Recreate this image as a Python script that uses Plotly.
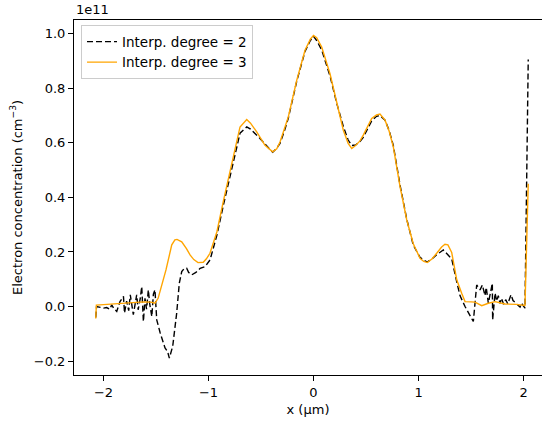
import plotly.graph_objects as go

# Values in units of 1e11 cm^-3, x in µm
x_deg3 = [-2.074, -2.068, -2.0, -1.9, -1.8, -1.7, -1.62, -1.55, -1.51, -1.48, -1.446, -1.405,
          -1.35, -1.32, -1.30, -1.255, -1.21, -1.176, -1.14, -1.10, -1.05, -1.02, -0.986,
          -0.953, -0.92, -0.859, -0.81, -0.764, -0.70, -0.636, -0.60, -0.541, -0.462,
          -0.389, -0.35, -0.319, -0.28, -0.24, -0.16, -0.081, -0.03, 0.0, 0.03, 0.078,
          0.157, 0.221, 0.284, 0.33, 0.364, 0.40, 0.443, 0.474, 0.554, 0.60, 0.633, 0.681,
          0.72, 0.76, 0.824, 0.888, 0.95, 1.014, 1.05, 1.084, 1.13, 1.173, 1.22, 1.252,
          1.28, 1.316, 1.348, 1.364, 1.411, 1.443, 1.50, 1.538, 1.602, 1.665, 1.729, 1.78,
          1.824, 1.93, 2.014, 2.045]
y_deg3 = [-0.044, 0.005, 0.007, 0.010, 0.013, 0.016, 0.017, 0.016, 0.012, 0.030, 0.075, 0.134,
          0.226, 0.244, 0.246, 0.237, 0.212, 0.189, 0.172, 0.161, 0.162, 0.175, 0.195,
          0.232, 0.274, 0.385, 0.470, 0.548, 0.658, 0.685, 0.672, 0.640, 0.591,
          0.567, 0.578, 0.603, 0.645, 0.695, 0.829, 0.939, 0.980, 0.993, 0.985, 0.951,
          0.853, 0.744, 0.646, 0.598, 0.579, 0.590, 0.607, 0.628, 0.689, 0.702, 0.705, 0.683,
          0.643, 0.585, 0.439, 0.317, 0.230, 0.177, 0.165, 0.161, 0.175, 0.195, 0.218, 0.228,
          0.226, 0.198, 0.128, 0.098, 0.049, 0.018, 0.017, 0.016, 0.003, 0.012, 0.018, 0.013,
          0.009, 0.008, 0.004, 0.450]

x_deg2 = [-2.074, -2.066, -2.03, -2.0, -1.97, -1.94, -1.922, -1.90, -1.874, -1.843, -1.81,
          -1.80, -1.78, -1.76, -1.745, -1.716, -1.684, -1.67, -1.65, -1.636, -1.62, -1.605,
          -1.59, -1.573, -1.56, -1.54, -1.525, -1.51, -1.493, -1.46, -1.414, -1.39, -1.373,
          -1.341, -1.303, -1.278, -1.255, -1.23, -1.208, -1.19, -1.16, -1.12, -1.08, -1.033,
          -0.985, -0.95, -0.92, -0.859, -0.81, -0.764, -0.70, -0.636, -0.60, -0.51, -0.45,
          -0.389, -0.35, -0.319, -0.28, -0.24, -0.16, -0.081, -0.03, 0.0, 0.03, 0.078,
          0.157, 0.221, 0.284, 0.33, 0.364, 0.40, 0.443, 0.474, 0.554, 0.60, 0.633, 0.681,
          0.72, 0.76, 0.824, 0.888, 0.95, 1.014, 1.05, 1.084, 1.13, 1.173, 1.236, 1.28,
          1.316, 1.364, 1.395, 1.443, 1.49, 1.522, 1.554, 1.586, 1.608, 1.633, 1.645, 1.665,
          1.685, 1.703, 1.706, 1.729, 1.745, 1.76, 1.776, 1.79, 1.81, 1.83, 1.85, 1.881,
          1.90, 1.935, 1.967, 1.98, 2.014, 2.045]
y_deg2 = [-0.040, 0.000, -0.003, -0.006, -0.004, -0.010, 0.006, -0.008, -0.018, 0.018, 0.037,
          -0.024, 0.020, -0.015, 0.043, -0.030, 0.043, -0.012, 0.030, 0.073, -0.055, 0.030,
          -0.010, 0.061, 0.010, -0.037, 0.045, 0.061, -0.049, -0.097, -0.152, -0.165, -0.189,
          -0.146, -0.024, 0.086, 0.128, 0.140, 0.140, 0.125, 0.116, 0.125, 0.140, 0.146,
          0.171, 0.220, 0.262, 0.370, 0.455, 0.530, 0.635, 0.658, 0.650, 0.616, 0.590,
          0.565, 0.580, 0.598, 0.640, 0.690, 0.825, 0.935, 0.975, 0.990, 0.975, 0.940,
          0.845, 0.745, 0.660, 0.610, 0.590, 0.592, 0.605, 0.620, 0.680, 0.697, 0.700, 0.683,
          0.645, 0.590, 0.445, 0.320, 0.225, 0.180, 0.170, 0.163, 0.175, 0.190, 0.207, 0.190,
          0.175, 0.090, 0.040, 0.000, -0.030, -0.055, 0.079, 0.061, 0.079, 0.040, 0.070, 0.012,
          0.050, 0.085, -0.049, 0.049, 0.020, 0.040, 0.012, 0.030, 0.008, 0.025, 0.010, 0.043,
          0.022, 0.010, -0.002, 0.012, -0.006, 0.905]

x_ticks = [-2, -1, 0, 1, 2]
y_ticks = [-0.2, 0.0, 0.2, 0.4, 0.6, 0.8, 1.0]

FONT = "DejaVu Sans"

fig = go.Figure()
fig.add_trace(go.Scatter(x=x_deg2, y=y_deg2, mode="lines", name="Interp. degree = 2",
                         line=dict(color="black", width=1.4, dash="6px,3px")))
fig.add_trace(go.Scatter(x=x_deg3, y=y_deg3, mode="lines", name="Interp. degree = 3",
                         line=dict(color="#FFA500", width=1.4)))

fig.update_layout(
    width=542, height=421,
    margin=dict(l=74, r=0, t=20, b=46),
    paper_bgcolor="white", plot_bgcolor="white",
    font=dict(family=FONT, size=13, color="black"),
    showlegend=True,
    legend=dict(x=0.015, y=0.985, xanchor="left", yanchor="top",
                bgcolor="rgba(255,255,255,0.8)", bordercolor="#cccccc", borderwidth=1,
                font=dict(family=FONT, size=13.5), tracegroupgap=0),
    xaxis=dict(range=[-2.281, 2.176], tickvals=x_ticks, ticks="outside", ticklen=5,
               tickcolor="black", showline=True, linecolor="black", linewidth=1, mirror=True,
               showgrid=False, zeroline=False,
               title=dict(text="x (µm)", font=dict(size=13), standoff=6)),
    yaxis=dict(range=[-0.251, 1.050], tickvals=y_ticks, tickformat=".1f", ticks="outside",
               ticklen=5, tickcolor="black", showline=True, linecolor="black", linewidth=1,
               mirror=False, showgrid=False, zeroline=False,
               title=dict(text="Electron concentration (cm<sup>−3</sup>)", font=dict(size=13),
                          standoff=8)),
    annotations=[dict(text="1e11", xref="paper", yref="paper", x=0, y=1.0,
                      xanchor="left", yanchor="bottom", showarrow=False,
                      font=dict(family=FONT, size=13), yshift=1)],
)

fig.write_html("out.html", config={"displayModeBar": False},
               post_script="document.body.style.margin='0';document.body.style.overflow='hidden';")
